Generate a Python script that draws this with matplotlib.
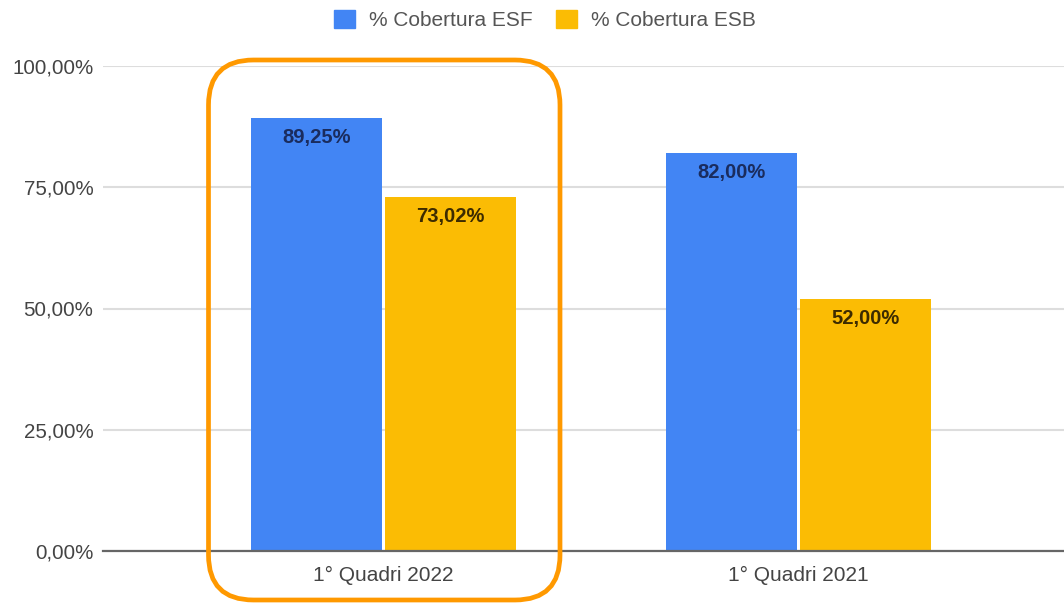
import numpy as np
import matplotlib.pyplot as plt
from matplotlib.patches import FancyBboxPatch, Patch
from matplotlib.transforms import IdentityTransform

##-----     DATA     -----
categories = ['1° Quadri 2022', '1° Quadri 2021']
esf = [89.25, 82.00]
esb = [73.02, 52.00]
series_names = ['% Cobertura ESF', '% Cobertura ESB']
yticks = [0, 25, 50, 75, 100]

blue = '#4285F4'
yellow = '#FBBC04'

plt.rcParams['font.family'] = ['Liberation Sans', 'DejaVu Sans']

def fmt(v):
    return ('%.2f' % v).replace('.', ',') + '%'

##-----     FIGURE     -----
W, H = 1064, 605
fig = plt.figure(figsize=(W/100, H/100), dpi=100)
ax = fig.add_axes([103/W, 1-551/H, 1-103/W, (551-66)/H])

x = np.arange(len(categories))
bw = 0.315
off = 0.161
b1 = ax.bar(x - off, esf, bw, color=blue, zorder=3)
b2 = ax.bar(x + off, esb, bw, color=yellow, zorder=3)

for bars, vals, c in [(b1, esf, '#1a2c5e'), (b2, esb, '#3d2b00')]:
    for r, v in zip(bars, vals):
        ax.annotate(fmt(v), (r.get_x() + r.get_width()/2, v), xytext=(0, -14),
                    textcoords='offset points', ha='center', va='center',
                    fontsize=14.5, fontweight='bold', color=c, zorder=4)

ax.set_xlim(-0.674, 1.638)
ax.set_ylim(0, 100)
ax.set_yticks(yticks)
ax.set_yticklabels([fmt(v) for v in yticks], fontsize=14.8, color='#444444')
ax.set_xticks(x)
ax.set_xticklabels(categories, fontsize=15, color='#444444')
ax.tick_params(axis='x', length=0, pad=11)
ax.tick_params(axis='y', length=0, pad=7)
ax.grid(axis='y', color='#dddddd', lw=1.5, zorder=0)
for s in ['top', 'right', 'left']:
    ax.spines[s].set_visible(False)
ax.spines['bottom'].set_color('#666666')
ax.spines['bottom'].set_linewidth(1.6)
ax.spines['bottom'].set_zorder(5)

handles = [Patch(color=blue), Patch(color=yellow)]
fig.legend(handles, series_names, ncol=2, loc='center', bbox_to_anchor=(545/W, 1-20/H),
           frameon=False, fontsize=15, labelcolor='#555555',
           handlelength=1.0, handleheight=1.0, handletextpad=0.7, columnspacing=1.1)

# orange highlight box around 2022
box = FancyBboxPatch((208.5, H-600), 560-208.5, 540, boxstyle='round,pad=0,rounding_size=45',
                     fill=False, edgecolor='#FF9900', lw=3.4, transform=IdentityTransform(), zorder=10)
fig.patches.append(box)

plt.savefig('out.png', dpi=100)
